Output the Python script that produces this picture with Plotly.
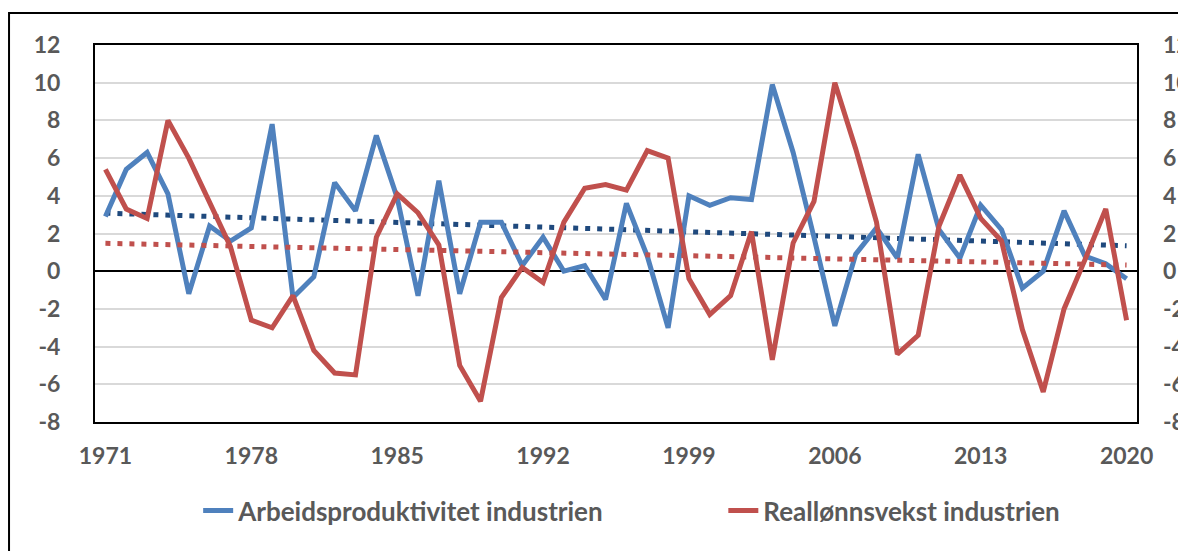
import numpy as np
import plotly.graph_objects as go

years = list(range(1971, 2021))
productivity = [2.9, 5.4, 6.3, 4.1, -1.2, 2.4, 1.6, 2.3, 7.8, -1.4,
                -0.3, 4.7, 3.2, 7.2, 3.9, -1.3, 4.8, -1.2, 2.6, 2.6,
                0.3, 1.8, 0.0, 0.3, -1.5, 3.6, 0.8, -3.0, 4.0, 3.5,
                3.9, 3.8, 9.9, 6.3, 1.8, -2.9, 0.9, 2.3, 0.7, 6.2,
                2.2, 0.7, 3.5, 2.2, -0.9, 0.0, 3.2, 0.8, 0.4, -0.4]
real_wage = [5.4, 3.3, 2.8, 8.0, 6.0, 3.7, 1.3, -2.6, -3.0, -1.3,
             -4.2, -5.4, -5.5, 1.8, 4.1, 3.1, 1.4, -5.0, -6.9, -1.4,
             0.2, -0.6, 2.6, 4.4, 4.6, 4.3, 6.4, 6.0, -0.4, -2.3,
             -1.3, 2.1, -4.7, 1.5, 3.7, 10.0, 6.5, 2.6, -4.4, -3.4,
             2.4, 5.1, 2.8, 1.6, -3.1, -6.4, -2.0, 0.6, 3.3, -2.6]
x_ticks = [1971, 1978, 1985, 1992, 1999, 2006, 2013, 2020]
y_ticks = list(range(-8, 13, 2))
y_tick_labels = [str(v) for v in y_ticks]

names = ["Arbeidsproduktivitet industrien", "Reallønnsvekst industrien"]
line_colors = ["#4F81BD", "#C0504D"]
trend_colors = ["#1F497D", "#C0504D"]
legend_ids = ["legend", "legend2"]

yr = np.array(years, dtype=float)
fig = go.Figure()
for i, (vals, name) in enumerate(zip([productivity, real_wage], names)):
    coef = np.polyfit(yr, np.array(vals), 1)
    trend = np.polyval(coef, yr)
    fig.add_trace(go.Scatter(x=years, y=trend, mode="lines", showlegend=False,
                             hoverinfo="skip", yaxis="y2" if i == 1 else "y",
                             line=dict(color=trend_colors[i], width=5, dash="5px,7px")))
for i, (vals, name) in enumerate(zip([productivity, real_wage], names)):
    fig.add_trace(go.Scatter(x=years, y=vals, mode="lines", name=name,
                             legend=legend_ids[i],
                             line=dict(color=line_colors[i], width=5)))

tickfont = dict(family="Lato", size=23, color="#595959", weight="bold")
legfont = dict(family="Lato", size=26, color="#595959", weight="bold")
fig.update_layout(
    width=1178, height=543,
    margin=dict(l=87, r=49, t=37, b=129, autoexpand=False),
    paper_bgcolor="white", plot_bgcolor="white",
    font=dict(family="Lato", color="#595959"),
    xaxis=dict(range=[1970.5, 2020.5], tickvals=x_ticks, showgrid=False,
               zeroline=False, showline=True, linecolor="black", linewidth=2,
               mirror=True, tickfont=tickfont, ticks="", ticklabelstandoff=12,
               automargin=False),
    yaxis=dict(range=[-8, 12], tickvals=y_ticks, ticktext=y_tick_labels,
               showgrid=True, gridcolor="#D9D9D9", gridwidth=2, zeroline=True,
               zerolinecolor="black", zerolinewidth=2, showline=True,
               linecolor="black", linewidth=2, mirror=True, tickfont=tickfont,
               ticks="", ticklabelstandoff=28, automargin=False),
    yaxis2=dict(range=[-8, 12], tickvals=y_ticks, ticktext=y_tick_labels,
                overlaying="y", side="right",
                showgrid=False, zeroline=False, showline=False,
                tickfont=tickfont, ticks="", ticklabelstandoff=25,
                automargin=False),
    legend=dict(orientation="h", x=0.099, xanchor="left", y=-0.235,
                yanchor="middle", font=legfont, bgcolor="rgba(0,0,0,0)"),
    legend2=dict(orientation="h", x=0.603, xanchor="left", y=-0.235,
                 yanchor="middle", font=legfont, bgcolor="rgba(0,0,0,0)"),
    shapes=[dict(type="rect", xref="paper", yref="paper", x0=-0.0825, x1=1.2,
                 y0=-0.5, y1=1.085, line=dict(color="black", width=2),
                 layer="below")],
)
fig.write_html("out.html")
